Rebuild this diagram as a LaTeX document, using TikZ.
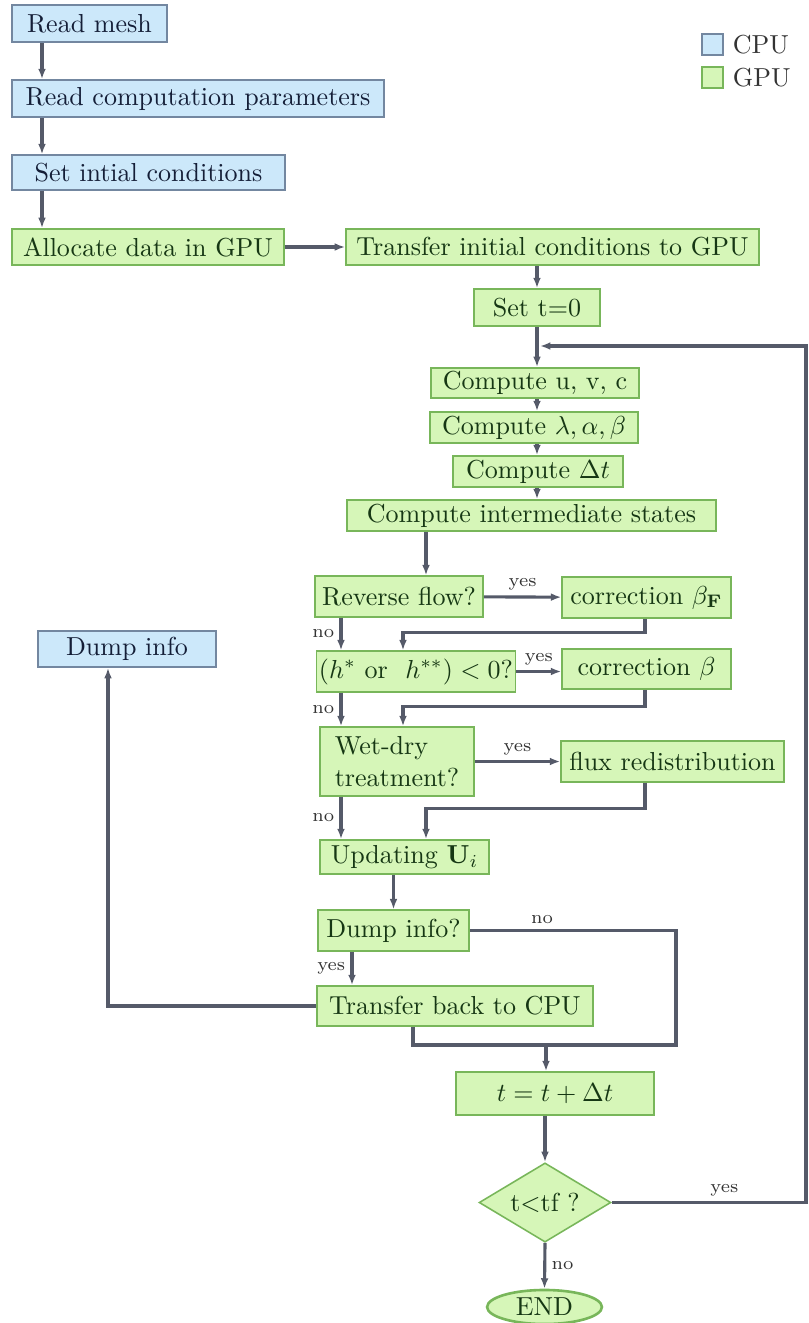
\documentclass[tikz,border=0pt]{standalone}
\usepackage{tikz}
\usetikzlibrary{shapes.geometric}
\usetikzlibrary{arrows.meta}
\definecolor{cpufill}{RGB}{204,232,250}
\definecolor{cpuline}{RGB}{115,135,160}
\definecolor{cputext}{RGB}{20,30,55}
\definecolor{gpufill}{RGB}{214,246,184}
\definecolor{gpuline}{RGB}{120,182,90}
\definecolor{gputext}{RGB}{22,55,20}
\definecolor{flowline}{RGB}{85,90,105}
\tikzset{
    cpu/.style = {rectangle, draw=cpuline, fill=cpufill, text=cputext, line width=0.6pt, inner sep=1pt, minimum height=0.50cm},
    gpu/.style = {rectangle, draw=gpuline, fill=gpufill, text=gputext, line width=0.6pt, inner sep=1pt, minimum height=0.55cm},
    gpud/.style = {diamond, aspect=1.67, draw=gpuline, fill=gpufill, text=gputext, line width=0.6pt, inner sep=0pt},
    gpue/.style = {ellipse, draw=gpuline, fill=gpufill, text=gputext, line width=1pt, inner sep=0pt},
    keybox/.style = {rectangle, line width=0.6pt, minimum size=0.28cm, inner sep=0pt},
    edgen/.style = {-{Latex[length=4pt,width=3pt]}, line width=1.2pt, flowline},
    edgep/.style = {line width=1.2pt, flowline}, % no tip
    lbl/.style = {font=\scriptsize, text=black!80, inner sep=2pt}
}
\begin{document}
\begin{tikzpicture}[x=0.0135cm, y=-0.0135cm]
\useasboundingbox (0,0) rectangle (808,1323);
%
\node[cpu, minimum width=2.09cm] at (89.5,23.5) (mesh) {Read mesh};
\node[cpu, minimum width=5.02cm] at (198,98.5) (param) {Read computation parameters};
\node[cpu, minimum width=3.69cm, minimum height=0.47cm] at (148.5,172.5) (init) {Set intial conditions};
\node[gpu, minimum width=3.67cm, minimum height=0.49cm] at (148,247) (alloc) {Allocate data in GPU};
\node[gpu, minimum width=5.58cm, minimum height=0.49cm] at (552.5,247) (send) {Transfer initial conditions to GPU};
\node[gpu, minimum width=1.70cm, minimum height=0.50cm] at (537,307.5) (tzero) {Set t$=$0};
\node[gpu, minimum width=2.81cm, minimum height=0.41cm] at (535,383) (uvc) {Compute u, v, c};
\node[gpu, minimum width=2.81cm, minimum height=0.42cm] at (534,427.5) (lab) {Compute $\lambda,\alpha,\beta$};
\node[gpu, minimum width=2.30cm, minimum height=0.42cm] at (538,471.5) (dt) {Compute $\Delta t$};
\node[gpu, minimum width=4.98cm, minimum height=0.42cm] at (531.5,515.5) (inter) {Compute intermediate states};
\node[gpu, minimum width=2.27cm] at (399,596.5) (rev) {Reverse flow?};
\node[gpu, minimum width=2.28cm] at (646.5,597.5) (corrF) {correction $\beta_{\mathbf{F}}$};
\node[gpu, minimum width=2.65cm] at (416,671.5) (neg) {$(h^{*}$ or \ $h^{**})<0$?};
\node[gpu, minimum width=2.28cm, minimum height=0.54cm] at (646.5,669) (corrB) {correction $\beta$};
\node[gpu, minimum width=2.08cm, minimum height=0.93cm, align=left] at (397,761.5) (wet) {Wet-dry\\treatment?};
\node[gpu, minimum width=3.01cm] at (672.5,761.5) (flux) {flux redistribution};
\node[gpu, minimum width=2.28cm, minimum height=0.46cm] at (404.5,857) (upd) {Updating $\mathbf{U}_i$};
\node[gpu, minimum width=2.04cm] at (393.5,930.5) (askdump) {Dump info?};
\node[gpu, minimum width=3.73cm, minimum height=0.54cm] at (455,1006) (back) {Transfer back to CPU};
\node[cpu, minimum width=2.40cm, minimum height=0.49cm] at (127,649) (dump) {Dump info};
\node[gpu, minimum width=2.67cm, minimum height=0.58cm] at (555,1093.5) (tnext) {$t=t+\Delta t$};
\node[gpud, minimum width=1.78cm, minimum height=1.07cm] at (545,1202.5) (tend) {t$<$tf ?};
\node[gpue, minimum width=1.55cm, minimum height=0.46cm] at (544.5,1307) (stop) {END};
%
\node[keybox, draw=cpuline, fill=cpufill] at (712.5,44.5) (kcpu) {};
\node[keybox, draw=gpuline, fill=gpufill] at (712.5,77.5) (kgpu) {};
\node[right, text=black!80] at (kcpu.east) (tcpu) {CPU};
\node[right, text=black!80] at (kgpu.east) (tgpu) {GPU};
%
\coordinate (xleft) at (42,0);
\coordinate (xmain) at (537,0);
\coordinate (xno) at (341,0);
\coordinate (xret) at (403,0);
\coordinate (xin) at (426,0);
\coordinate (xfx) at (645,0);
\coordinate (xyes) at (352,0);
\coordinate (xbk) at (413,0);
\coordinate (xdump) at (108,0);
\coordinate (xnd) at (676,0);
\coordinate (xrim) at (806,0);
\coordinate (loopin) at (540,346);
\coordinate (join) at (546,1045);
%
\draw[edgen] (mesh.south -| xleft) -- (param.north -| xleft);
\draw[edgen] (param.south -| xleft) -- (init.north -| xleft);
\draw[edgen] (init.south -| xleft) -- (alloc.north -| xleft);
\draw[edgen] (alloc) -- (send);
\draw[edgen] (send.south -| tzero.north) -- (tzero.north);
\draw[edgen] (tzero.south) -- (tzero.south |- uvc.north);
\draw[edgen] (uvc.south -| xmain) -- (lab.north -| xmain);
\draw[edgen] (lab.south -| xmain) -- (dt.north -| xmain);
\draw[edgen] (dt.south -| xmain) -- (inter.north -| xmain);
\draw[edgen] (inter.south -| xin) -- (rev.north -| xin);
\draw[edgen] (rev) -- node[lbl, above] {yes} (corrF);
\draw[edgen] (rev.south -| xno) -- node[lbl, left] {no} (neg.north -| xno);
\draw[edgen] (corrF.south -| xfx) -- ++(0,14) -| (neg.north -| xret);
\draw[edgen] (neg.east) -- node[lbl, above] {yes} (neg.east -| corrB.west);
\draw[edgen] (neg.south -| xno) -- node[lbl, left] {no} (wet.north -| xno);
\draw[edgen] (corrB.south -| xfx) -- ++(0,17) -| (wet.north -| xret);
\draw[edgen] (wet) -- node[lbl, above] {yes} (flux);
\draw[edgen] (wet.south -| xno) -- node[lbl, left] {no} (upd.north -| xno);
\draw[edgen] (flux.south -| xfx) -- ++(0,26) -| (upd.north -| xin);
\draw[edgen] (askdump.north |- upd.south) -- (askdump.north);
\draw[edgen] (askdump.south -| xyes) -- node[lbl, left] {yes} (back.north -| xyes);
\draw[edgep] (askdump.east) -- node[lbl, above, pos=0.35] {no} (askdump.east -| xnd) |- (join);
\draw[edgep] (back.south -| xbk) |- (join);
\draw[edgen] (join) -- (join |- tnext.north);
\draw[edgen] (back.west) -| (dump.south -| xdump);
\draw[edgen] (tnext.south -| tend.north) -- (tend.north);
\draw[edgen] (tend.south) -- node[lbl, right] {no} (stop.north);
\draw[edgen] (tend.east) -- node[lbl, above, pos=0.58] {yes} (tend.east -| xrim) |- (loopin);
\end{tikzpicture}
\end{document}
